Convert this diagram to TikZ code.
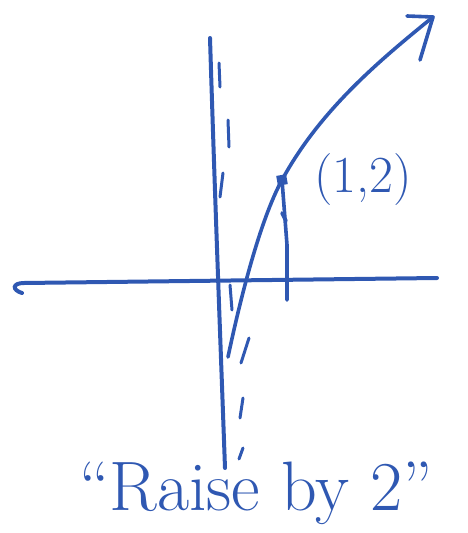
\documentclass[tikz,border=0pt]{standalone}
\usepackage{tikz}
\usetikzlibrary{arrows.meta,positioning}
\definecolor{ink}{RGB}{47,88,178}

\begin{document}
\begin{tikzpicture}[x=1pt,y=-1pt,
  axis/.style={ink, line width=4pt, line cap=round},
  curve/.style={ink, line width=3.6pt, line cap=round, line join=round},
  dashmark/.style={ink, line width=3pt, line cap=round},
  hand/.style={ink, inner sep=0pt}]
\useasboundingbox (0,0) rectangle (467,533);
% axes
\coordinate (xl) at (24,283);
\coordinate (xr) at (437,278);
\coordinate (yt) at (210,38);
\coordinate (yb) at (225,468);
\draw[axis] (xr) -- (xl) .. controls (12,283) and (12,290) .. (22,293);
\draw[axis] (yt) .. controls (215,200) and (220,330) .. (yb);
% shifted asymptote, drawn dash by dash
\foreach \a/\b/\c/\d in {219/63/220/87, 228/120/229/147, 223/173/220/197,
    230/285/232/310, 249/338/241/363, 243/398/240/418, 243/448/239/459}
  \draw[dashmark] (\a,\b) -- (\c,\d);
% raised curve
\coordinate (start) at (228,357);
\coordinate (pt) at (282,180);
\coordinate (tip) at (433,17);
\draw[curve] (start) .. controls (240,300) and (260,220) .. (pt)
  .. controls (320,110) and (380,60) .. (tip);
\draw[curve] (407,16) -- (tip) -- (420,60);
% raise from (1,0)
\coordinate (foot) at (287,300);
\draw[curve] (foot) -- (287,245) -- (pt);
\draw[curve] (282,213) -- (286,221);
\node[fill=ink, minimum size=10pt, inner sep=0pt, rotate=10] (mark) at (pt) {};
\node[hand, anchor=base, font=\fontsize{52}{52}\selectfont] (ptlabel) at (363,192) {(1,2)};
% caption
\node[hand, anchor=base, font=\fontsize{70}{70}\selectfont] (caption) at (256,510) {``Raise by 2''};
\end{tikzpicture}
\end{document}
